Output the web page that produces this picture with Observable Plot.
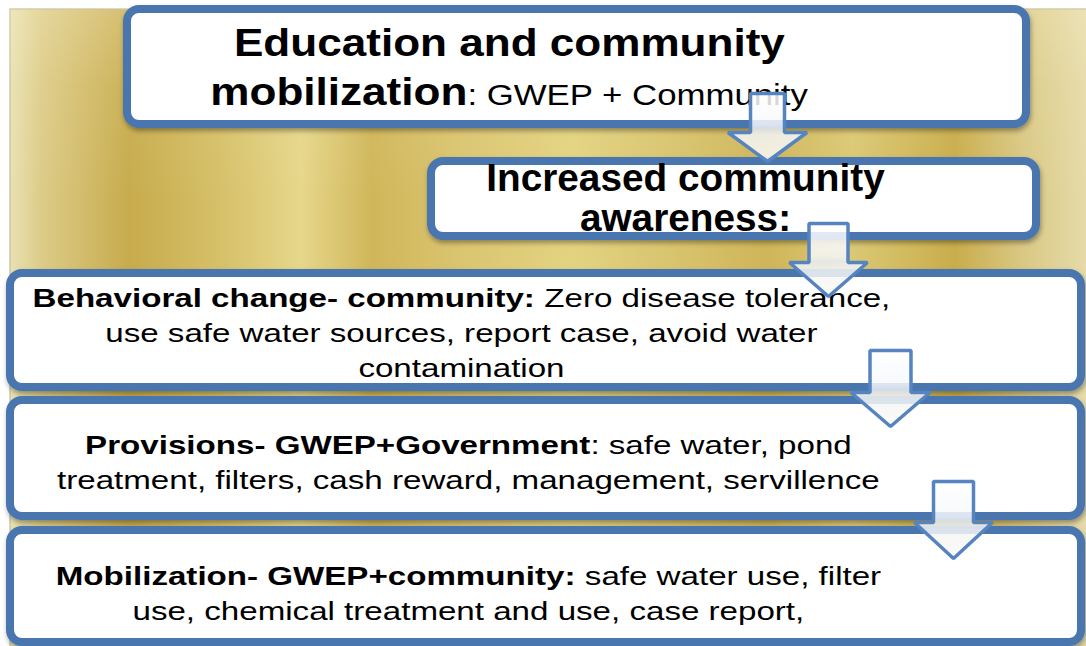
<!DOCTYPE html>
<html>
<head>
<meta charset="utf-8">
<script src="https://cdn.jsdelivr.net/npm/d3@7"></script>
<script src="https://cdn.jsdelivr.net/npm/@observablehq/plot@0.6"></script>
<style>
  html, body { margin: 0; padding: 0; background: #fff; }
  svg { display: block; }
</style>
</head>
<body>
<div id="chart"></div>
<script>
// ---------- content (text of each step, as lines of [text, weight] segments) ----------
const stepNames = ["Education and community mobilization", "Increased community awareness",
  "Behavioral change- community", "Provisions- GWEP+Government", "Mobilization- GWEP+community"];
const step1Lines = [
  [["Education and community", "bold"]],
  [["mobilization", "bold"], [": GWEP + Community", "normal"]]
];
const step2Lines = [
  [["Increased community", "bold"]],
  [["awareness:", "bold"]]
];
const step3Lines = [
  [["Behavioral change- community:", "bold"], [" Zero disease tolerance,", "normal"]],
  [["use safe water sources, report case, avoid water", "normal"]],
  [["contamination", "normal"]]
];
const step4Lines = [
  [["Provisions- GWEP+Government", "bold"], [": safe water, pond", "normal"]],
  [["treatment, filters, cash reward, management, servillence", "normal"]]
];
const step5Lines = [
  [["Mobilization- GWEP+community:", "bold"], [" safe water use, filter", "normal"]],
  [["use, chemical treatment and use, case report,", "normal"]]
];
const stepLines = [step1Lines, step2Lines, step3Lines, step4Lines, step5Lines];

// ---------- layout (pixel units of the 1086 x 646 canvas) ----------
const W = 1086, H = 646;
const bgBox = [10, 9, 1090, 650];            // x1, y1, x2, y2 of the gold backdrop
const boxLeft   = [127, 431, 10, 10, 10];
const boxRight  = [1026, 1036, 1081, 1081, 1081];
const boxTop    = [9, 161, 273, 400, 530];
const boxBottom = [124, 236, 387, 516, 642];
const textCenter = [509, 685, 461, 468, 468];
const baselines = [[55, 104], [190, 230], [306, 341, 376], [453, 488], [584, 619]];
const boldSize = [38, 38, 26.5, 26.5, 26.5];
const normalSize = [30, 38, 26.5, 26.5, 26.5];
const stretch = [1.16, 1.02, 1.25, 1.25, 1.25];

const arrowCx        = [767, 828, 890, 953];
const arrowTop       = [93, 223, 350, 481];
const arrowNeck      = [132, 262, 392, 522];
const arrowTip       = [161, 296, 426, 558];
const arrowShaftHalf = [17, 19.5, 20.5, 20];
const arrowHeadHalf  = [39.5, 39, 39.5, 39];

const FONT = '"Liberation Sans", Arial, sans-serif';

// ---------- build tables ----------
const boxes = stepNames.map((name, i) => ({
  name, x1: boxLeft[i], x2: boxRight[i], y1: boxTop[i], y2: boxBottom[i]
}));

const ctx = document.createElement("canvas").getContext("2d");
function measure(text, weight, size) {
  ctx.font = `${weight} ${size}px ${FONT}`;
  return ctx.measureText(text).width;
}

const textRows = [];
stepLines.forEach((lines, b) => {
  lines.forEach((segs, li) => {
    const sizes = segs.map(([t, w]) => w === "bold" ? boldSize[b] : normalSize[b]);
    const widths = segs.map(([t, w], k) => measure(t, w, sizes[k]));
    const total = d3.sum(widths);
    let x = textCenter[b] - total / 2;
    segs.forEach(([t, w], k) => {
      const lead = t.length - t.trimStart().length;
      const leadW = lead ? measure(t.slice(0, lead), w, sizes[k]) : 0;
      textRows.push({box: b, x: x + leadW, y: baselines[b][li], text: t.trim(), weight: w, size: sizes[k]});
      x += widths[k];
    });
  });
});

const arrowPts = [];
arrowCx.forEach((cx, i) => {
  const hs = arrowShaftHalf[i], hh = arrowHeadHalf[i];
  const pts = [
    [cx - hs, arrowTop[i]], [cx + hs, arrowTop[i]], [cx + hs, arrowNeck[i]],
    [cx + hh, arrowNeck[i]], [cx, arrowTip[i]], [cx - hh, arrowNeck[i]], [cx - hs, arrowNeck[i]]
  ];
  pts.forEach(([x, y]) => arrowPts.push({id: i, x, y}));
});

// ---------- marks ----------
const textMarks = [], textMarkBox = [];
stepLines.forEach((_, b) => {
  for (const w of ["bold", "normal"]) {
    const rows = textRows.filter(d => d.box === b && d.weight === w);
    if (!rows.length) continue;
    textMarks.push(Plot.text(rows, {
      x: "x", y: "y", text: "text",
      fontSize: rows[0].size, fontWeight: w === "bold" ? 700 : 400,
      fontFamily: FONT, textAnchor: "start", lineAnchor: "bottom",
      fill: "#000"
    }));
    textMarkBox.push(b);
  }
});

const svg = Plot.plot({
  width: W, height: H,
  margin: 0,
  x: {domain: [0, W], range: [0, W], axis: null},
  y: {domain: [0, H], range: [0, H], axis: null},
  style: {fontFamily: FONT, background: "#fff", overflow: "hidden"},
  marks: [
    Plot.rect([bgBox], {x1: d => d[0], y1: d => d[1], x2: d => d[2], y2: d => d[3],
      fill: "url(#gold)", stroke: "#b9b28e", strokeWidth: 1}),
    Plot.rect([bgBox], {x1: d => d[0], y1: d => d[1], x2: d => d[2], y2: d => d[3],
      fill: "url(#goldShade)"}),
    Plot.rect(boxes, {x1: "x1", x2: "x2", y1: "y1", y2: "y2", rx: 12, ry: 12,
      fill: "#fff", stroke: "#4a76ae", strokeWidth: 8}),
    ...textMarks,
    Plot.line(arrowPts, {x: "x", y: "y", z: "id", curve: "linear-closed",
      fill: "url(#arrowFill)", fillOpacity: 0.85, stroke: "#5684c0", strokeWidth: 3.5,
      strokeLinejoin: "miter"})
  ]
});

// gradients and shadow
const root = d3.select(svg);
const groups = root.selectAll(":scope > g").nodes();   // one group per mark, in order
const defs = root.insert("defs", ":first-child");
const gold = defs.append("linearGradient").attr("id", "gold").attr("x1", 0).attr("x2", 1).attr("y1", 0).attr("y2", 0);
[[0, "#e9e1b3"], [0.03, "#dccb87"], [0.11, "#c7ab4d"], [0.19, "#d5bf67"], [0.27, "#e6d78b"],
 [0.335, "#d0b65a"], [0.42, "#dbc571"], [0.52, "#e3d381"], [0.61, "#d9c46f"], [0.70, "#cfb55a"],
 [0.78, "#dbc874"], [0.875, "#c9ad4c"], [0.94, "#dac986"], [1, "#e6dcab"]]
  .forEach(([o, c]) => gold.append("stop").attr("offset", o).attr("stop-color", c));
const shade = defs.append("linearGradient").attr("id", "goldShade").attr("x1", 0).attr("x2", 0).attr("y1", 0).attr("y2", 1);
[[0, "#fff8d8", 0.25], [0.12, "#fff8d8", 0.08], [0.3, "#fff8d8", 0]]
  .forEach(([o, c, a]) => shade.append("stop").attr("offset", o).attr("stop-color", c).attr("stop-opacity", a));
const af = defs.append("linearGradient").attr("id", "arrowFill").attr("x1", 0).attr("x2", 0).attr("y1", 0).attr("y2", 1);
[[0, "#ffffff"], [0.45, "#f6f8fb"], [0.52, "#e7edf6"], [0.62, "#f3f5f6"], [1, "#fafaf4"]]
  .forEach(([o, c]) => af.append("stop").attr("offset", o).attr("stop-color", c));
const f = defs.append("filter").attr("id", "shadow").attr("x", "-5%").attr("y", "-10%").attr("width", "110%").attr("height", "130%");
f.append("feDropShadow").attr("dx", 1).attr("dy", 3).attr("stdDeviation", 2.5)
  .attr("flood-color", "#000").attr("flood-opacity", 0.35);

if (groups[2]) d3.select(groups[2]).attr("filter", "url(#shadow)");

// horizontal stretch of each step's text, around its centre line
textMarkBox.forEach((b, k) => {
  const node = groups[3 + k];
  if (!node) return;
  const cx = textCenter[b], s = stretch[b];
  const g = d3.select(node);
  const prev = g.attr("transform") || "";
  g.attr("transform", `${prev} translate(${cx},0) scale(${s},1) translate(${-cx},0)`.trim());
});

document.getElementById("chart").appendChild(svg);
</script>
</body>
</html>
